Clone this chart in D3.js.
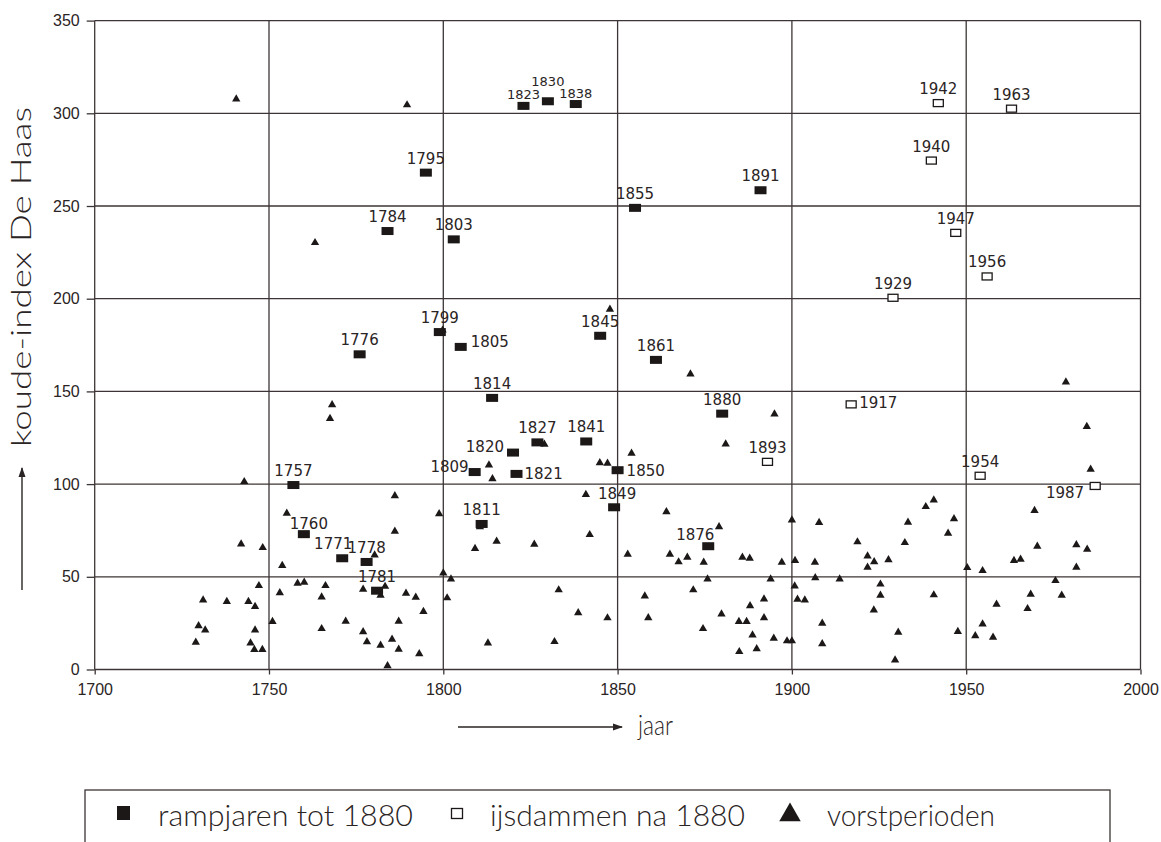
<!DOCTYPE html>
<html>
<head>
<meta charset="utf-8">
<script src="https://cdn.jsdelivr.net/npm/d3@7"></script>
<style>
  body { margin: 0; background: #fff; }
  svg { display: block; }
</style>
</head>
<body>
<svg id="chart" width="1161" height="842"></svg>
<script>
// rampjaren tot 1880 (filled squares)
var rampYears  = [1757, 1760, 1771, 1776, 1778, 1781, 1784, 1795, 1799, 1803, 1805, 1809, 1811, 1814,
                  1820, 1821, 1823, 1827, 1830, 1838, 1841, 1845, 1849, 1850, 1855, 1861, 1876, 1880, 1891];
var rampValues = [99.5, 73, 60, 170, 58, 42.5, 236.5, 268, 182, 232, 174, 106.5, 78.5, 146.5,
                  117, 105.5, 304, 122.5, 306.5, 305, 123, 180, 87.5, 107.5, 249, 167, 66.5, 138, 258.5];

// ijsdammen na 1880 (open squares)
var ijsYears  = [1893, 1917, 1929, 1940, 1942, 1947, 1954, 1956, 1963, 1987];
var ijsValues = [112, 143, 200.5, 274.5, 305.5, 235.5, 104.5, 212, 302.5, 99];

// vorstperioden (triangles)
var vorstYears = [1729.0, 1729.8, 1731.1, 1731.7, 1737.9, 1740.6, 1742.0, 1742.9, 1744.1, 1744.7,
                  1745.8, 1746.0, 1746.0, 1747.1, 1748.1, 1748.2, 1751.0, 1753.1, 1753.8, 1755.1,
                  1758.2, 1760.1, 1763.2, 1765.1, 1765.1, 1766.2, 1767.5, 1768.1, 1772.0, 1777.0,
                  1777.0, 1778.1, 1780.3, 1782.0, 1782.0, 1783.3, 1784.0, 1785.3, 1786.1, 1786.1,
                  1787.2, 1787.2, 1789.3, 1789.6, 1792.1, 1793.1, 1794.3, 1798.8, 1800.0, 1799.8,
                  1801.1, 1802.2, 1809.1, 1810.5, 1812.8, 1813.1, 1814.1, 1815.3, 1826.1, 1829.0,
                  1831.9, 1833.1, 1838.7, 1840.9, 1842.0, 1844.9, 1847.1, 1847.1, 1847.8, 1852.9,
                  1854.0, 1857.8, 1858.8, 1864.0, 1865.0, 1867.5, 1870.0, 1870.9, 1871.7, 1874.5,
                  1874.7, 1875.8, 1879.1, 1879.8, 1881.0, 1884.8, 1884.9, 1885.8, 1887.0, 1887.9,
                  1888.0, 1888.7, 1889.9, 1892.0, 1892.0, 1893.9, 1894.8, 1895.0, 1897.1, 1898.6,
                  1900.0, 1900.0, 1900.8, 1900.9, 1901.6, 1903.7, 1906.6, 1906.7, 1907.8, 1908.7,
                  1908.7, 1913.7, 1918.8, 1921.7, 1921.7, 1923.5, 1923.6, 1925.4, 1925.4, 1927.7,
                  1929.6, 1930.5, 1932.4, 1933.3, 1938.4, 1940.7, 1940.7, 1944.8, 1946.5, 1947.6,
                  1950.3, 1952.6, 1954.7, 1954.7, 1957.7, 1958.7, 1963.7, 1965.6, 1967.6, 1968.5,
                  1969.6, 1970.4, 1975.6, 1977.4, 1978.6, 1981.6, 1981.6, 1984.6, 1984.7, 1985.7];
var vorstValues = [14.7, 23.6, 37.5, 21.3, 36.6, 307.7, 67.7, 101.3, 36.6, 14.3,
                   10.7, 33.9, 21.3, 45.2, 10.7, 65.7, 25.8, 41.3, 56.0, 84.2,
                   46.5, 47.0, 230.2, 39.1, 22.0, 45.2, 135.3, 142.8, 26.0, 43.2,
                   20.3, 14.9, 61.7, 13.0, 40.0, 44.8, 2.0, 16.3, 93.7, 74.5,
                   26.0, 10.9, 41.1, 304.5, 38.9, 8.4, 31.2, 84.0, 52.0, 183.0,
                   38.6, 48.8, 65.2, 77.0, 14.3, 110.3, 102.9, 69.1, 67.5, 121.5,
                   15.0, 42.9, 30.6, 94.3, 72.7, 111.5, 111.2, 27.8, 194.3, 62.1,
                   116.6, 39.6, 27.9, 85.1, 62.1, 58.0, 60.5, 159.4, 42.9, 22.0,
                   57.8, 48.8, 77.0, 29.9, 121.6, 25.8, 9.6, 60.5, 25.8, 60.0,
                   34.4, 18.6, 11.2, 38.0, 27.9, 48.8, 16.8, 137.8, 57.8, 15.4,
                   15.4, 80.6, 45.0, 58.7, 37.9, 37.5, 57.8, 49.5, 79.2, 24.9,
                   13.8, 48.8, 68.8, 61.2, 55.1, 32.1, 58.1, 46.0, 40.0, 59.1,
                   5.1, 20.1, 68.4, 79.4, 87.8, 91.4, 40.2, 73.5, 81.3, 20.4,
                   54.9, 18.2, 53.3, 24.5, 17.4, 35.2, 58.7, 59.4, 32.8, 40.6,
                   85.7, 66.4, 47.9, 40.0, 155.0, 67.3, 55.1, 131.0, 64.8, 108.0];

var xTicks = [1700, 1750, 1800, 1850, 1900, 1950, 2000];
var yTicks = [0, 50, 100, 150, 200, 250, 300, 350];
var legendLabels = ["rampjaren tot 1880", "ijsdammen na 1880", "vorstperioden"];

// label placement next to a square: [dx, dy, anchor]; default is centred above
var labelPlace = {
  1760: [5, -5, "middle"], 1771: [-9, -9, "middle"], 1805: [10, 0, "start"],
  1809: [-6, 0, "end"], 1820: [-9, -1, "end"], 1821: [8, 5, "start"],
  1823: [0, -7, "middle"], 1830: [0, -15, "middle"], 1838: [0, -6, "middle"],
  1849: [3, -8, "middle"], 1850: [9, 6, "start"], 1876: [-13, -6, "middle"],
  1917: [8, 4, "start"], 1987: [-11, 12, "end"]
};
var smallLabels = [1823, 1830, 1838];

var ink = "#2a2424", gridCol = "#3d3535";
var titleFont = "'Lato', 'DejaVu Sans', sans-serif";

var svg = d3.select("#chart");

var x = d3.scaleLinear().domain([1700, 2000]).range([94.7, 1140.5]);
var y = d3.scaleLinear().domain([0, 350]).range([669.5, 20.6]);

// grid
svg.append("g").selectAll("line").data(xTicks).enter().append("line")
  .attr("x1", function(d) { return x(d); }).attr("x2", function(d) { return x(d); })
  .attr("y1", y(350)).attr("y2", y(0))
  .attr("stroke", gridCol).attr("stroke-width", 1.3);
svg.append("g").selectAll("line").data(yTicks).enter().append("line")
  .attr("x1", x(1700)).attr("x2", x(2000))
  .attr("y1", function(d) { return y(d); }).attr("y2", function(d) { return y(d); })
  .attr("stroke", gridCol).attr("stroke-width", 1.3);

// axes
var xAxis = svg.append("g")
  .attr("transform", "translate(0," + y(0) + ")")
  .call(d3.axisBottom(x).tickValues(xTicks).tickSize(5).tickPadding(9).tickFormat(d3.format("d")));
var yAxis = svg.append("g")
  .attr("transform", "translate(" + x(1700) + ",0)")
  .call(d3.axisLeft(y).tickValues(yTicks).tickSize(8).tickPadding(7));
[xAxis, yAxis].forEach(function(a) {
  a.select(".domain").remove();
  a.selectAll(".tick line").attr("stroke", gridCol).attr("stroke-width", 1.3);
  a.selectAll(".tick text").attr("fill", ink)
    .style("font-family", "'Liberation Sans', Arial, sans-serif").style("font-size", "16px");
});

// triangles
var vorst = vorstYears.map(function(d, i) { return {year: d, value: vorstValues[i]}; });
svg.append("g").selectAll("path").data(vorst).enter().append("path")
  .attr("d", d3.symbol().type(d3.symbolTriangle).size(30))
  .attr("transform", function(d) { return "translate(" + x(d.year) + "," + y(d.value) + ")"; })
  .attr("fill", "#1c1818");

// squares
var ramp = rampYears.map(function(d, i) { return {year: d, value: rampValues[i], open: false}; });
var ijs = ijsYears.map(function(d, i) { return {year: d, value: ijsValues[i], open: true}; });
var squares = ramp.concat(ijs);

svg.append("g").selectAll("rect").data(squares).enter().append("rect")
  .attr("x", function(d) { return x(d.year) - (d.open ? 5 : 6); })
  .attr("y", function(d) { return y(d.value) - (d.open ? 3.5 : 4); })
  .attr("width", function(d) { return d.open ? 10 : 12; })
  .attr("height", function(d) { return d.open ? 7 : 8; })
  .attr("fill", function(d) { return d.open ? "#fff" : "#1c1818"; })
  .attr("stroke", "#1c1818")
  .attr("stroke-width", function(d) { return d.open ? 1.3 : 0; });

svg.append("g").selectAll("text").data(squares).enter().append("text")
  .attr("x", function(d) { var p = labelPlace[d.year] || [0, -9]; return x(d.year) + p[0]; })
  .attr("y", function(d) { var p = labelPlace[d.year] || [0, -9]; return y(d.value) + p[1]; })
  .attr("text-anchor", function(d) { var p = labelPlace[d.year]; return p ? p[2] : "middle"; })
  .style("font-family", "'DejaVu Sans', sans-serif")
  .style("font-size", function(d) { return smallLabels.indexOf(d.year) >= 0 ? "13px" : "15px"; })
  .attr("fill", ink)
  .text(function(d) { return d.year; });

// arrow heads
var defs = svg.append("defs");
defs.append("marker").attr("id", "head")
  .attr("viewBox", "0 0 10 10").attr("refX", 9).attr("refY", 5)
  .attr("markerWidth", 10).attr("markerHeight", 10).attr("markerUnits", "userSpaceOnUse")
  .attr("orient", "auto")
  .append("path").attr("d", "M0,1.5 L10,5 L0,8.5 Z").attr("fill", ink);

// axis titles
svg.append("line").attr("x1", 22).attr("x2", 22).attr("y1", 590).attr("y2", 468)
  .attr("stroke", ink).attr("stroke-width", 1.4).attr("marker-end", "url(#head)");
svg.append("text")
  .attr("transform", "translate(31,447) rotate(-90)")
  .attr("textLength", 340).attr("lengthAdjust", "spacingAndGlyphs")
  .style("font-family", titleFont).style("font-weight", 300).style("font-size", "27px")
  .attr("fill", ink).text("koude-index De Haas");

svg.append("line").attr("x1", 458).attr("x2", 622).attr("y1", 727).attr("y2", 727)
  .attr("stroke", ink).attr("stroke-width", 1.4).attr("marker-end", "url(#head)");
svg.append("text")
  .attr("x", 638).attr("y", 735)
  .attr("textLength", 35).attr("lengthAdjust", "spacingAndGlyphs")
  .style("font-family", titleFont).style("font-weight", 300).style("font-size", "28px")
  .attr("fill", ink).text("jaar");

// legend
var legend = svg.append("g");
legend.append("rect").attr("x", 85).attr("y", 790).attr("width", 1025).attr("height", 70)
  .attr("fill", "none").attr("stroke", gridCol).attr("stroke-width", 1.3);

legend.append("rect").attr("x", 117).attr("y", 806).attr("width", 13).attr("height", 14).attr("fill", "#1c1818");
legend.append("rect").attr("x", 451.5).attr("y", 808.5).attr("width", 11).attr("height", 10)
  .attr("fill", "#fff").attr("stroke", "#1c1818").attr("stroke-width", 1.3);
legend.append("path").attr("d", d3.symbol().type(d3.symbolTriangle).size(200))
  .attr("transform", "translate(790,815)").attr("fill", "#1c1818");

var legendX = [158, 490, 827], legendW = [255, 255, 168];
legend.selectAll("text.lg").data(legendLabels).enter().append("text")
  .attr("class", "lg")
  .attr("x", function(d, i) { return legendX[i]; })
  .attr("y", 826)
  .attr("textLength", function(d, i) { return legendW[i]; })
  .attr("lengthAdjust", "spacingAndGlyphs")
  .style("font-family", titleFont).style("font-weight", 300).style("font-size", "30px")
  .attr("fill", ink)
  .text(function(d) { return d; });
</script>
</body>
</html>
